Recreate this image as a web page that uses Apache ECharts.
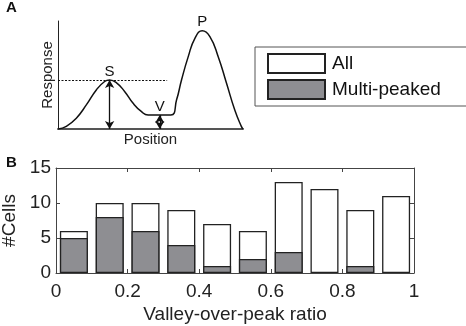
<!DOCTYPE html>
<html>
<head>
<meta charset="utf-8">
<script src="https://cdn.jsdelivr.net/npm/echarts@6/dist/echarts.min.js"></script>
<style>
  html, body { margin: 0; padding: 0; background: #fff; }
  #chart { width: 466px; height: 326px; }
</style>
</head>
<body>
<div id="chart"></div>
<script>
// panel A: schematic response curve
const curvePos = [0, 4.5, 9.9, 15.3, 20.8, 25.2, 27.9, 31.5, 36, 40.5, 45, 48.7, 61, 64.1, 66.8, 70.4, 74, 78, 82.1, 86.6, 91.1, 95.6, 99.1, 100];
const curveResp = [0, 2.4, 10, 22.3, 36.4, 44, 45.4, 43, 34.8, 24, 16.3, 13, 13, 27, 45.6, 67, 84, 91, 85.6, 67, 42.3, 17.3, 2.4, 0];
const peakS = [27.9, 45.4];
const valleyV = [55, 13];
const peakP = [78, 91];

// panel B: histogram
const binCenters = [0.05, 0.15, 0.25, 0.35, 0.45, 0.55, 0.65, 0.75, 0.85, 0.95];
const allCells = [6, 10, 10, 9, 7, 6, 13, 12, 9, 11];
const multiCells = [5, 8, 6, 4, 1, 2, 3, 0, 1, 0];
const xTicks = [0, 0.2, 0.4, 0.6, 0.8, 1];
const yTicks = [0, 5, 10, 15];

const font = 'Liberation Sans, Arial, sans-serif';
const frame = '#444';

const chartsDom = document.getElementById('chart');
const mychart = echarts.init(chartsDom, null, { renderer: 'canvas' });

const arrowLine = (x, y0, y1) => [
  { coord: [x, y0] },
  { coord: [x, y1] },
];

const option = {
  animation: false,
  textStyle: { fontFamily: font },
  graphic: [
    { type: 'text', left: 6, top: 0, style: { text: 'A', font: 'bold 15px ' + font, fill: '#111' } },
    { type: 'text', left: 6, top: 155, style: { text: 'B', font: 'bold 15px ' + font, fill: '#111' } },
  ],
  legend: {
    data: ['All', 'Multi-peaked'],
    orient: 'vertical',
    left: 255,
    top: 47,
    padding: [6, 28, 6, 12],
    itemWidth: 57,
    itemHeight: 19,
    itemGap: 5,
    icon: 'rect',
    backgroundColor: '#fff',
    borderColor: '#555',
    borderWidth: 1,
    borderRadius: 0,
    textStyle: { fontFamily: font, fontSize: 19, color: '#111', padding: [0, 0, 0, 2] },
  },
  grid: [
    { left: 58, top: 21, width: 185, height: 108, outerBoundsMode: 'none' },
    { left: 56, right: 52, top: 168, bottom: 53, outerBoundsMode: 'none' },
  ],
  xAxis: [
    {
      gridIndex: 0,
      type: 'value',
      min: 0,
      max: 100,
      name: 'Position',
      nameLocation: 'middle',
      nameGap: 3,
      nameTextStyle: { fontFamily: font, fontSize: 15, color: '#222', verticalAlign: 'top' },
      axisLine: { show: true, lineStyle: { color: '#555', width: 2 } },
      axisTick: { show: false },
      axisLabel: { show: false },
      splitLine: { show: false },
    },
    {
      gridIndex: 1,
      type: 'value',
      min: 0,
      max: 1,
      interval: 0.2,
      name: 'Valley-over-peak ratio',
      nameLocation: 'middle',
      nameGap: 32,
      nameTextStyle: { fontFamily: font, fontSize: 19, color: '#222' },
      axisLine: { show: true, onZero: false, lineStyle: { color: frame, width: 1 } },
      axisTick: { show: true, inside: true, length: 4, lineStyle: { color: frame } },
      axisLabel: {
        fontFamily: font,
        fontSize: 19,
        color: '#222',
        margin: 9,
        formatter: (v) => (xTicks.includes(+v.toFixed(1)) ? String(+v.toFixed(1)) : ''),
      },
      splitLine: { show: false },
    },
    {
      gridIndex: 1,
      type: 'value',
      position: 'top',
      min: 0,
      max: 1,
      interval: 0.2,
      axisLine: { show: true, onZero: false, lineStyle: { color: frame, width: 1 } },
      axisTick: { show: true, inside: true, length: 4, lineStyle: { color: frame } },
      axisLabel: { show: false },
      splitLine: { show: false },
    },
  ],
  yAxis: [
    {
      gridIndex: 0,
      type: 'value',
      min: 0,
      max: 100,
      name: 'Response',
      nameLocation: 'middle',
      nameGap: 3,
      nameRotate: 90,
      nameTextStyle: { fontFamily: font, fontSize: 15, color: '#222', verticalAlign: 'bottom' },
      axisLine: { show: true, lineStyle: { color: '#222', width: 1 } },
      axisTick: { show: false },
      axisLabel: { show: false },
      splitLine: { show: false },
    },
    {
      gridIndex: 1,
      type: 'value',
      min: 0,
      max: 15,
      interval: 5,
      name: '#Cells',
      nameLocation: 'middle',
      nameGap: 29,
      nameTextStyle: { fontFamily: font, fontSize: 19, color: '#222' },
      axisLine: { show: true, onZero: false, lineStyle: { color: frame, width: 1 } },
      axisTick: { show: true, inside: true, length: 4, lineStyle: { color: frame } },
      axisLabel: {
        fontFamily: font,
        fontSize: 19,
        color: '#222',
        margin: 5,
        formatter: (v) => (yTicks.includes(v) ? String(v) : ''),
      },
      splitLine: { show: false },
    },
    {
      gridIndex: 1,
      type: 'value',
      position: 'right',
      min: 0,
      max: 15,
      interval: 5,
      axisLine: { show: true, onZero: false, lineStyle: { color: frame, width: 1 } },
      axisTick: { show: true, inside: true, length: 4, lineStyle: { color: frame } },
      axisLabel: { show: false },
      splitLine: { show: false },
    },
  ],
  series: [
    {
      name: 'curve',
      type: 'line',
      xAxisIndex: 0,
      yAxisIndex: 0,
      data: curvePos.map((x, i) => [x, curveResp[i]]),
      smooth: 0.5,
      showSymbol: false,
      lineStyle: { color: '#111', width: 1.5 },
      z: 3,
      markPoint: {
        symbol: 'circle',
        symbolSize: 0,
        label: {
          show: true,
          fontFamily: font,
          fontSize: 15,
          color: '#111',
          position: 'top',
          distance: 1,
          formatter: (p) => p.name,
        },
        data: [
          { name: 'S', coord: peakS },
          { name: 'V', coord: valleyV },
          { name: 'P', coord: peakP },
        ],
      },
      markLine: {
        silent: true,
        symbol: ['arrow', 'arrow'],
        symbolSize: [7, 8],
        label: { show: false },
        lineStyle: { color: '#111', width: 1.3, type: 'solid' },
        data: [
          arrowLine(peakS[0], 0, peakS[1]),
          arrowLine(valleyV[0], 0, valleyV[1]),
          [
            { coord: [0, peakS[1]], symbol: 'none', lineStyle: { type: [2, 1.5], width: 1 } },
            { coord: [59, peakS[1]], symbol: 'none' },
          ],
        ],
      },
    },
    {
      name: 'All',
      type: 'bar',
      xAxisIndex: 1,
      yAxisIndex: 1,
      barWidth: 28,
      barGap: '-100%',
      data: binCenters.map((x, i) => [x, allCells[i]]),
      itemStyle: { color: '#fff', borderColor: '#222', borderWidth: 1.3 },
    },
    {
      name: 'Multi-peaked',
      type: 'bar',
      xAxisIndex: 1,
      yAxisIndex: 1,
      barWidth: 28,
      barGap: '-100%',
      data: binCenters.map((x, i) => [x, multiCells[i] > 0 ? multiCells[i] : '-']),
      itemStyle: { color: '#8e8e92', borderColor: '#222', borderWidth: 1.3 },
    },
  ],
};

mychart.setOption(option);
</script>
</body>
</html>
